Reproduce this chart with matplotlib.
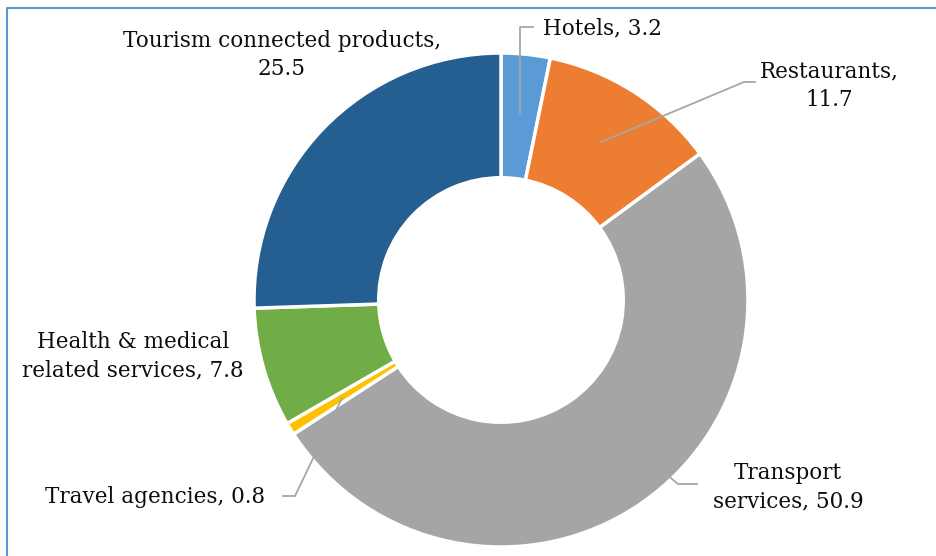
import matplotlib.pyplot as plt

categories = ['Hotels', 'Restaurants', 'Transport services', 'Travel agencies',
              'Health & medical related services', 'Tourism connected products']
values = [3.2, 11.7, 50.9, 0.8, 7.8, 25.5]
label_texts = ['Hotels, 3.2', 'Restaurants,\n11.7', 'Transport\nservices, 50.9',
               'Travel agencies, 0.8', 'Health & medical\nrelated services, 7.8',
               'Tourism connected products,\n25.5']
colors = ['#5B9BD5', '#ED7D31', '#A5A5A5', '#FFC000', '#70AD47', '#255E91']

W, H = 936, 556
fig = plt.figure(figsize=(W / 100, H / 100), dpi=100)
ax = fig.add_axes([0, 0, 1, 1])

# pixel coords (y from top) -> data coords
def P(x, y):
    return x, H - y

cx, cy = P(501, 300)
R = 247
ax.pie(values, colors=colors, startangle=90, counterclock=False,
       center=(cx, cy), radius=R, frame=True,
       wedgeprops=dict(width=R * 0.505, edgecolor='white', linewidth=2.5))
ax.set_xlim(0, W)
ax.set_ylim(0, H)
ax.axis('off')

# frame of the chart area (cropped at right/bottom)
ax.plot([7, 7, W + 5], [-5, H - 8, H - 8], color='#5B9BD5', lw=1.5, clip_on=False)

lc = '#A6A6A6'
leaders = [
    [(520, 113), (520, 27), (533, 27)],
    [(601, 142), (744, 82), (755, 82)],
    [(666, 474), (678, 484), (697, 484)],
    [(342, 398), (295, 496), (283, 496)],
]
for pts in leaders:
    xs, ys = zip(*[P(x, y) for x, y in pts])
    ax.plot(xs, ys, color=lc, lw=1.3)

fs = 15.5
font = 'DejaVu Serif'
pos = [
    ((543, 28), 'left'),
    ((829, 86), 'center'),
    ((788, 487), 'center'),
    ((155, 497), 'center'),
    ((133, 356), 'center'),
    ((282, 55), 'center'),
]
for txt, ((x, y), ha) in zip(label_texts, pos):
    tx, ty = P(x, y)
    ax.text(tx, ty, txt, ha=ha, va='center', fontsize=fs, family=font,
            linespacing=1.38, color='#0D0D0D')

fig.savefig('out.png', dpi=100)
